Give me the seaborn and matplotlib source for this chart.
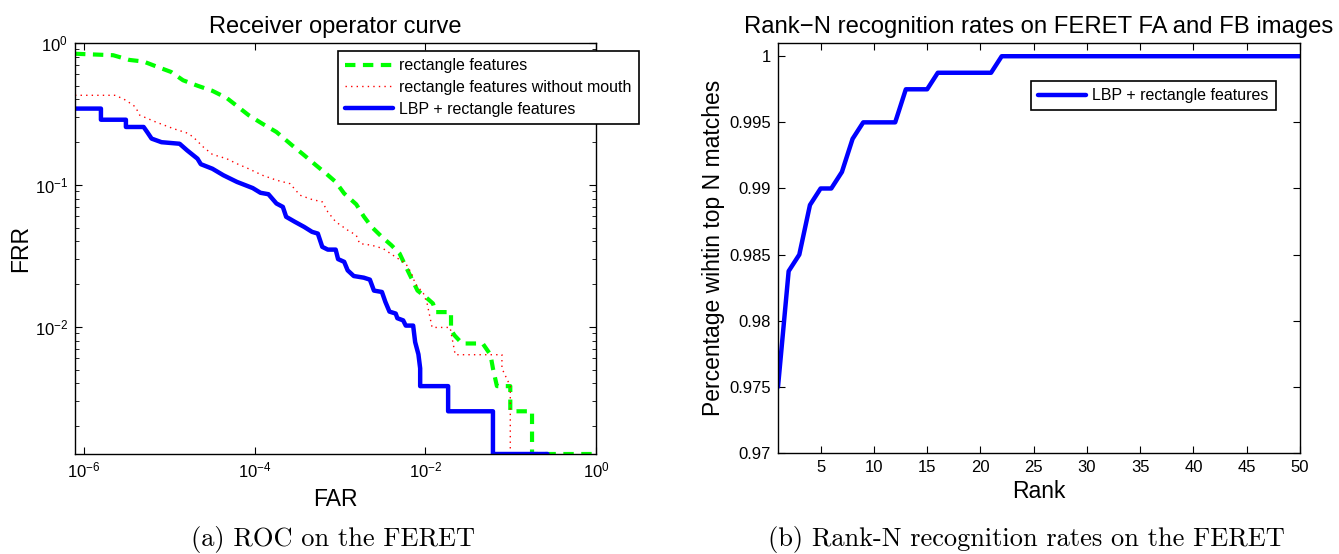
import numpy as np
import pandas as pd
import matplotlib
matplotlib.use("Agg")
import matplotlib.pyplot as plt
import seaborn as sns
from matplotlib.ticker import FixedLocator, FixedFormatter, LogLocator, NullLocator, NullFormatter, LogFormatterSciNotation

# ---------------- data: ROC (FAR vs FRR) ----------------
far_rect = [7.85e-7, 2.2e-6, 3.4e-6, 5.0e-6, 7.2e-6, 1.05e-5, 1.45e-5, 2.14e-5, 3.2e-5, 4.7e-5,
            6.2e-5, 8.5e-5, 1.23e-4, 1.8e-4, 2.75e-4, 3.8e-4, 5.2e-4, 6.9e-4, 8.9e-4, 1.12e-3,
            1.55e-3, 1.9e-3, 2.35e-3, 3.1e-3, 4.0e-3, 5.0e-3, 6.2e-3, 8.1e-3, 1.0e-2, 1.23e-2,
            1.32e-2, 2.0e-2, 2.0e-2, 2.2e-2, 2.7e-2, 4.7e-2, 5.8e-2, 6.2e-2, 6.9e-2, 0.099,
            0.099, 0.178, 0.178, 1.0]
frr_rect = [0.84, 0.82, 0.76, 0.74, 0.68, 0.625, 0.546, 0.50, 0.46, 0.41,
            0.36, 0.31, 0.27, 0.236, 0.19, 0.162, 0.138, 0.12, 0.105, 0.087,
            0.073, 0.060, 0.0506, 0.043, 0.0376, 0.0328, 0.025, 0.018, 0.0163, 0.0146,
            0.0127, 0.0127, 0.0095, 0.0087, 0.00763, 0.00763, 0.00636, 0.00509, 0.00382, 0.00382,
            0.00254, 0.00254, 0.00127, 0.00127]

far_nomouth = [7.85e-7, 2.34e-6, 3.1e-6, 4.0e-6, 4.5e-6, 6.9e-6, 1.12e-5, 1.62e-5, 1.9e-5, 2.5e-5,
               3.2e-5, 4.7e-5, 6.2e-5, 8.5e-5, 1.23e-4, 1.8e-4, 2.6e-4, 3.4e-4, 4.7e-4, 6.2e-4,
               7.2e-4, 8.9e-4, 1.23e-3, 1.55e-3, 1.7e-3, 2.34e-3, 3.2e-3, 4.5e-3, 5.9e-3, 6.9e-3,
               7.6e-3, 9.5e-3, 1.05e-2, 1.12e-2, 1.2e-2, 1.95e-2, 2.24e-2, 7.9e-2, 7.9e-2, 9.9e-2,
               9.9e-2]
frr_nomouth = [0.428, 0.428, 0.395, 0.355, 0.31, 0.278, 0.249, 0.232, 0.218, 0.185,
               0.164, 0.153, 0.141, 0.130, 0.117, 0.108, 0.102, 0.0846, 0.0789, 0.076,
               0.0645, 0.055, 0.048, 0.0442, 0.0386, 0.0376, 0.0356, 0.031, 0.0279, 0.0238,
               0.0202, 0.0172, 0.0146, 0.0121, 0.0099, 0.0099, 0.00636, 0.00636, 0.00509, 0.00382,
               0.00127]

far_lbp = [7.85e-7, 1.58e-6, 1.58e-6, 3.1e-6, 3.1e-6, 5.0e-6, 5.5e-6, 6.2e-6, 8.1e-6, 1.32e-5,
           1.62e-5, 2.14e-5, 2.34e-5, 3.2e-5, 4.3e-5, 6.2e-5, 9.5e-5, 1.17e-4, 1.45e-4, 1.8e-4,
           2.14e-4, 2.34e-4, 2.95e-4, 3.8e-4, 4.7e-4, 5.5e-4, 6.2e-4, 7.2e-4, 8.9e-4, 9.5e-4,
           1.12e-3, 1.23e-3, 1.45e-3, 1.9e-3, 2.24e-3, 2.5e-3, 3.1e-3, 3.4e-3, 3.8e-3, 4.5e-3,
           4.7e-3, 5.5e-3, 5.9e-3, 7.2e-3, 7.6e-3, 8.3e-3, 8.7e-3, 8.7e-3, 1.85e-2, 1.85e-2,
           6.2e-2, 6.2e-2, 0.27]
frr_lbp = [0.345, 0.345, 0.288, 0.288, 0.256, 0.256, 0.236, 0.212, 0.20, 0.195,
           0.175, 0.153, 0.14, 0.13, 0.117, 0.105, 0.095, 0.088, 0.086, 0.074,
           0.070, 0.0596, 0.055, 0.0506, 0.0467, 0.0454, 0.0366, 0.035, 0.035, 0.030,
           0.0287, 0.025, 0.0228, 0.0222, 0.0215, 0.018, 0.0176, 0.015, 0.0128, 0.0124,
           0.0115, 0.0111, 0.0102, 0.0102, 0.0078, 0.0064, 0.0051, 0.00382, 0.00382, 0.00254,
           0.00254, 0.00127, 0.00127]

roc_labels = ["rectangle features", "rectangle features without mouth", "LBP + rectangle features"]
roc_xticks = [1e-6, 1e-4, 1e-2, 1e0]
roc_yticks = [1e-2, 1e-1, 1e0]

# ---------------- data: Rank-N ----------------
rank = list(range(1, 51))
rank_rate = [0.975, 0.98375, 0.985, 0.98875, 0.990, 0.990, 0.99125, 0.99375, 0.995, 0.995,
             0.995, 0.995, 0.9975, 0.9975, 0.9975, 0.99875, 0.99875, 0.99875, 0.99875, 0.99875,
             0.99875] + [1.0] * 29
rank_xticks = [5, 10, 15, 20, 25, 30, 35, 40, 45, 50]
rank_yticks = [0.97, 0.975, 0.98, 0.985, 0.99, 0.995, 1.0]
rank_yticklabels = ["0.97", "0.975", "0.98", "0.985", "0.99", "0.995", "1"]

# ---------------- style ----------------
sns.set_style("ticks")
plt.rcParams["font.family"] = ["Liberation Sans", "DejaVu Sans"]
plt.rcParams.update({
    "mathtext.fontset": "custom",
    "mathtext.rm": "Liberation Sans",
    "mathtext.it": "Liberation Sans:italic",
    "mathtext.bf": "Liberation Sans:bold",
    "axes.linewidth": 1.0,
    "axes.edgecolor": "black",
    "xtick.direction": "in",
    "ytick.direction": "in",
    "xtick.top": True,
    "ytick.right": True,
    "xtick.color": "black",
    "ytick.color": "black",
    "text.color": "black",
    "axes.labelcolor": "black",
})

W, H = 1339, 554
fig = plt.figure(figsize=(W / 100, H / 100), dpi=100)
ax1 = fig.add_axes([75 / W, 1 - 454 / H, 521 / W, 411 / H])
ax2 = fig.add_axes([778 / W, 1 - 453 / H, 522 / W, 410 / H])

# ---------------- left: ROC ----------------
ax1.set_xscale("log")
ax1.set_yscale("log")
series = [
    (far_rect, frr_rect, roc_labels[0], "#00ff00", 3.0, (2.5, 1.8)),
    (far_nomouth, frr_nomouth, roc_labels[1], "#ff0000", 1.0, (1, 3)),
    (far_lbp, frr_lbp, roc_labels[2], "#0000ff", 3.2, None),
]
for fx, fy, lab, col, lw, dash in series:
    df = pd.DataFrame({"FAR": fx, "FRR": fy})
    sns.lineplot(data=df, x="FAR", y="FRR", ax=ax1, sort=False, estimator=None,
                 color=col, linewidth=lw, label=lab)
    if dash:
        ax1.lines[-1].set_dashes(dash)

ax1.set_xlim(7.85e-7, 1.0)
ax1.set_ylim(0.00127, 1.0)
ax1.xaxis.set_major_locator(FixedLocator(roc_xticks))
ax1.xaxis.set_minor_locator(NullLocator())
ax1.xaxis.set_major_formatter(LogFormatterSciNotation())
ax1.yaxis.set_major_locator(FixedLocator(roc_yticks))
ax1.yaxis.set_minor_locator(LogLocator(base=10, subs=np.arange(2, 10)))
ax1.yaxis.set_minor_formatter(NullFormatter())
ax1.yaxis.set_major_formatter(LogFormatterSciNotation())
ax1.tick_params(which="major", length=5, width=0.8, labelsize=12, pad=5)
ax1.tick_params(which="minor", length=3, width=0.6)
ax1.set_title("Receiver operator curve", fontsize=17, pad=7)
ax1.set_xlabel("FAR", fontsize=16.5, labelpad=5)
ax1.set_ylabel("FRR", fontsize=16.5, labelpad=2)
leg1 = ax1.legend(loc="upper left", bbox_to_anchor=(338 / W, 1 - 51 / H),
                  bbox_transform=fig.transFigure, borderaxespad=0, fontsize=11.5,
                  handlelength=3.0, handletextpad=0.4, labelspacing=0.42, borderpad=0.45,
                  fancybox=False, framealpha=1, edgecolor="black")
leg1.get_frame().set_linewidth(1.2)

# ---------------- right: Rank-N ----------------
dfr = pd.DataFrame({"Rank": rank, "Rate": rank_rate})
sns.lineplot(data=dfr, x="Rank", y="Rate", ax=ax2, color="#0000ff", linewidth=3.2,
             label="LBP + rectangle features", sort=False, estimator=None)
ax2.set_xlim(1, 50)
ax2.set_ylim(0.97, 1.001)
ax2.xaxis.set_major_locator(FixedLocator(rank_xticks))
ax2.yaxis.set_major_locator(FixedLocator(rank_yticks))
ax2.yaxis.set_major_formatter(FixedFormatter(rank_yticklabels))
ax2.tick_params(which="major", length=5, width=0.8, labelsize=12, pad=5)
ax2.set_title("Rank\u2212N recognition rates on FERET FA and FB images", fontsize=17.2, pad=7)
ax2.set_xlabel("Rank", fontsize=16.5, labelpad=4)
ax2.set_ylabel("Percentage wihtin top N matches", fontsize=16.5, labelpad=3)
leg2 = ax2.legend(loc="upper left", bbox_to_anchor=(1031 / W, 1 - 81 / H),
                  bbox_transform=fig.transFigure, borderaxespad=0, fontsize=11.5,
                  handlelength=3.0, handletextpad=0.4, borderpad=0.45,
                  fancybox=False, framealpha=1, edgecolor="black")
leg2.get_frame().set_linewidth(1.2)

# ---------------- captions ----------------
fig.text(333 / W, 1 - 546 / H, "(a) ROC on the FERET", ha="center", va="baseline",
         fontsize=19, family="cmr10")
fig.text(1026 / W, 1 - 546 / H, "(b) Rank-N recognition rates on the FERET", ha="center",
         va="baseline", fontsize=19, family="cmr10")

fig.savefig("out.png", dpi=100)
